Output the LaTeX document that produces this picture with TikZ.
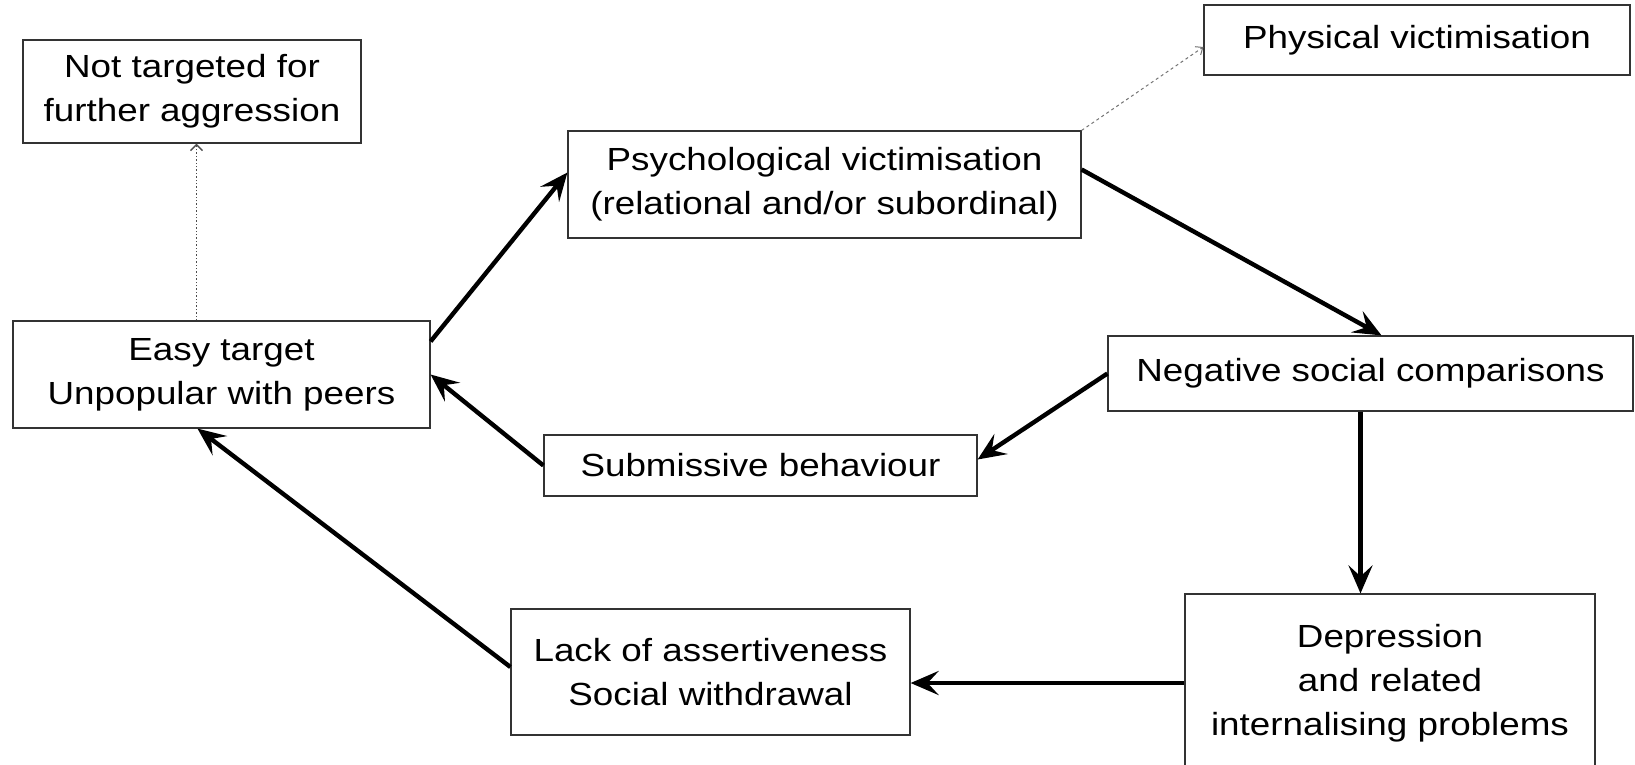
\documentclass[tikz,border=0pt]{standalone}
\usepackage{fontspec}
\setmainfont{Liberation Sans}[FakeStretch=1.15]
\usetikzlibrary{arrows.meta,calc}
\tikzset{
  box/.style={draw=black!80, line width=1.2pt, align=center, inner sep=0pt,
    font=\fontsize{32}{44}\selectfont, text=black},
  mainarrow/.style={line width=4.4pt, black,
    -{Stealth[length=28pt,width=24pt,inset=11pt]}},
  dotarrow/.style={line width=1.4pt, black!70, dotted,
    -{Straight Barb[length=6pt,width=12pt]}},
  dasharrow/.style={line width=1pt, black!55, dashed,
    -{Straight Barb[length=6pt,width=10pt]}},
}
\begin{document}
\begin{tikzpicture}[x=1pt,y=-1pt]
\useasboundingbox (0,0) rectangle (1635,764);
\node[box, minimum width=338pt, minimum height=103pt] (nt) at (192,91.5) {Not targeted for\\further aggression};
\node[box, minimum width=426pt, minimum height=70pt] (phys) at (1417,40) {Physical victimisation};
\node[box, minimum width=513pt, minimum height=107pt] (psych) at (824.5,184.5) {Psychological victimisation\\(relational and/or subordinal)};
\node[box, minimum width=417pt, minimum height=107pt] (easy) at (221.5,374.5) {Easy target\\Unpopular with peers};
\node[box, minimum width=525pt, minimum height=75pt] (neg) at (1370.5,373.5) {Negative social comparisons};
\node[box, minimum width=433pt, minimum height=61pt] (sub) at (760.5,465.5) {Submissive behaviour};
\node[box, minimum width=399pt, minimum height=126pt] (lack) at (710.5,672) {Lack of assertiveness\\Social withdrawal};
\node[box, minimum width=410pt, minimum height=178pt] (dep) at (1390,683) {Depression\\and related\\internalising problems};

\draw[dotarrow] ([xshift=-25pt]easy.north) -- ([xshift=-25pt]easy.north |- nt.south);
\draw[mainarrow] ([yshift=-21pt]easy.north east) -- ([yshift=12pt]psych.west);
\draw[dasharrow] (psych.north east) -- ([yshift=-7pt]phys.west);
\draw[mainarrow] ([yshift=15pt]psych.east) -- ([xshift=11pt]neg.north);
\draw[mainarrow] (neg.west) -- ([yshift=6pt]sub.east);
\draw[mainarrow] ([xshift=-10pt]neg.south) -- ([xshift=-10pt]neg.south |- dep.north);
\draw[mainarrow] (dep.west) -- (dep.west -| lack.east);
\draw[mainarrow] ([yshift=5pt]lack.west) -- ([xshift=-24pt]easy.south);
\draw[mainarrow] (sub.west) -- (easy.east);
\end{tikzpicture}
\end{document}
